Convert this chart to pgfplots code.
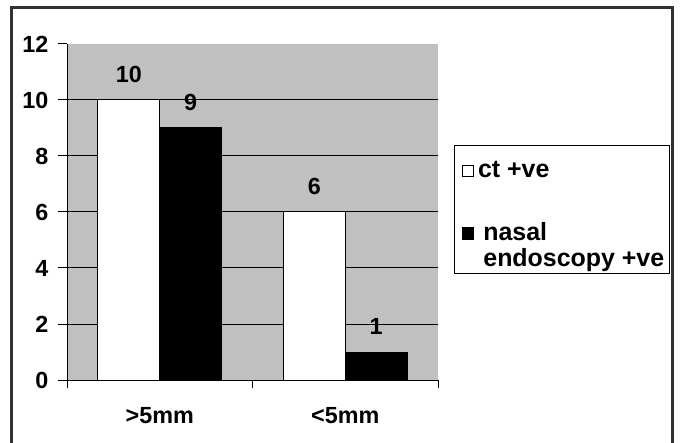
\documentclass[border=0pt]{standalone}
\usepackage{fontspec}
\setmainfont{Liberation Sans}
\usepackage{pgfplots}
\pgfplotsset{compat=1.18}
\definecolor{bg}{RGB}{192,192,192}
\definecolor{frame}{RGB}{50,50,50}
\begin{document}
\begin{tikzpicture}
\useasboundingbox (0,0) rectangle (510pt,331.5pt);
\draw[frame, line width=2.25pt] (8.5pt,-5pt) -- (8.5pt,325.6pt) -- (504.5pt,325.6pt) -- (504.5pt,-5pt);
\begin{axis}[
  at={(50.25pt,46.5pt)}, anchor=south west,
  scale only axis, width=278.25pt, height=252pt,
  xmin=-0.5, xmax=1.5, ymin=0, ymax=12,
  axis background/.style={fill=bg},
  axis x line*=bottom, axis y line*=left,
  axis line style={black, line width=0.75pt},
  ybar=0pt, bar width=0.3333,
  ytick={0,2,...,10}, extra y ticks={12}, extra y tick style={grid=none},
  ymajorgrids, grid style={black, line width=0.75pt},
  xtick={0,1}, xticklabels={{>5mm},{<5mm}},
  minor xtick={-0.5,0.5,1.5},
  major x tick style={draw=none},
  minor x tick style={black, line width=0.75pt},
  ytick style={black, line width=0.75pt},
  tick align=outside, major tick length=6.75pt, minor tick length=6pt,
  /pgf/number format/assume math mode=true,
  tick label style={font=\bfseries\fontsize{17.5}{20}\selectfont},
  xticklabel style={yshift=-10pt},
  yticklabel style={xshift=-3.75pt},
  nodes near coords,
  every node near coord/.append style={font=\bfseries\fontsize{17.5}{20}\selectfont, yshift=9.5pt, black},
  legend style={at={(1.0431,0.6964)}, anchor=north west, draw=none, fill=none,
    font=\bfseries\fontsize{18.7}{18.7}\selectfont, row sep=28.2pt, column sep=1pt,
    cells={anchor=base west, inner ysep=0.5pt, inner xsep=0pt}, inner xsep=6pt, inner ysep=0.5pt},
]
\addplot[fill=white, draw=black, line width=0.75pt,
  legend image code/.code={\draw[fill=white, draw=black, line width=0.6pt] (0pt,0.75pt) rectangle (8.25pt,9.5pt);}]
  coordinates {(0,10) (1,6)};
\addplot[fill=black, draw=black, line width=0.75pt,
  legend image code/.code={\draw[fill=black, draw=black, line width=0.6pt] (0pt,20pt) rectangle (8.25pt,29pt);}]
  coordinates {(0,9) (1,1)};
\addlegendentry{\rule{0pt}{21pt}ct +ve}
\addlegendentry{\begin{tabular}[b]{@{\hspace{4pt}}l@{}}nasal\\endoscopy +ve\end{tabular}}
\end{axis}
\draw[black, line width=0.75pt] (340.5pt,222pt) rectangle (501.75pt,126pt);
\end{tikzpicture}
\end{document}
